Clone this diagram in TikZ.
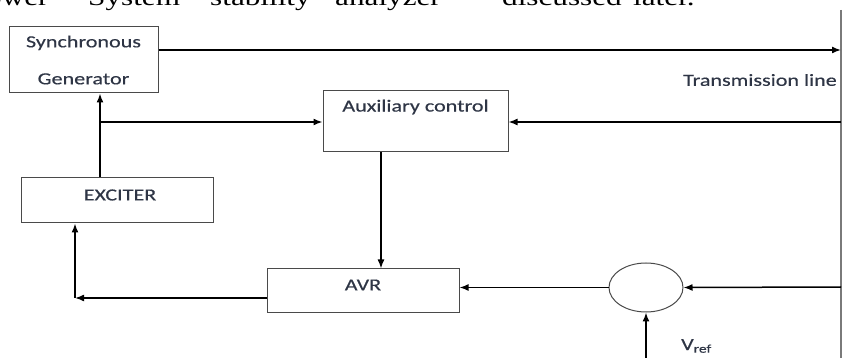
\documentclass[tikz,border=0pt]{standalone}
\usepackage{fontspec}
\usepackage{xcolor}
\usepackage{tikz}
\usetikzlibrary{shapes.geometric, arrows.meta, positioning, calc}
\newfontfamily\diagfont[FakeStretch=1.3, FakeBold=0.4]{Carlito}
\newfontfamily\bodyfont[FakeStretch=1.3]{Liberation Serif}
\definecolor{boxline}{HTML}{4A4A4A}
\definecolor{labeltext}{HTML}{2E3545}
\definecolor{busline}{HTML}{7A7A7A}

\begin{document}
\begin{tikzpicture}[x=1pt, y=-1pt, >={Latex[length=9pt, width=7pt]}]
    \tikzstyle{block} = [rectangle, draw=boxline, line width=1pt, inner sep=0pt]
    \tikzstyle{summer} = [ellipse, draw=boxline, line width=1pt, inner sep=0pt]
    \tikzstyle{lbl} = [text=labeltext, font=\diagfont\fontsize{17}{37}\selectfont, inner sep=0pt]
    \tikzstyle{signal} = [draw, ->, line width=1.5pt]

    \useasboundingbox (0,0) rectangle (844,358);
    \clip (0,0) rectangle (844,358);

    % cut-off line of body text above the figure
    \foreach \word/\xpos [count=\i] in {ower/-14, System/88, stability/210, analyzer/335, discussed/502, later./633}
        \node [anchor=base west, inner sep=0pt, font=\bodyfont\fontsize{24}{28}\selectfont] (word\i) at (\xpos,6) {\word};

    % blocks
    \node [block, minimum width=149, minimum height=66] (gen) at (83.5,60) {};
    \node [lbl, align=center] (gentext) at (gen.center) {Synchronous\\Generator};
    \node [block, minimum width=185, minimum height=61] (aux) at (415.5,121.5) {};
    \node [lbl] (auxtext) at ([yshift=14.5pt]aux.center) {Auxiliary control};
    \node [block, minimum width=192, minimum height=45] (exc) at (117,200.5) {};
    \node [lbl] (exctext) at ([xshift=3pt, yshift=5.5pt]exc.center) {EXCITER};
    \node [block, minimum width=192, minimum height=44] (avr) at (363,291) {};
    \node [lbl] (avrtext) at ([yshift=6pt]avr.center) {AVR};
    \node [summer, minimum width=74, minimum height=49] (sum) at (646,287.5) {};

    % transmission line
    \coordinate (bustop) at (841,10);
    \coordinate (busbot) at (841,358);
    \draw [busline, line width=2pt] (bustop) -- (busbot);
    \node [lbl, anchor=east] (buslabel) at (837,80) {Transmission line};

    \coordinate (bus1) at (841,50);
    \coordinate (bus2) at (841,122);
    \coordinate (bus3) at (841,287);
    \coordinate (tap) at (100,122);
    \coordinate (corner) at (75,298);
    \coordinate (vrefin) at (646,358);

    % signals
    \path [signal] (gen.east |- bus1) -- (bus1);
    \path [signal] (tap |- exc.north) -- (tap |- gen.south);
    \path [signal] (tap) -- (aux.west |- tap);
    \path [signal] (bus2) -- (aux.east |- bus2);
    \path [signal] ([xshift=-34.5pt]aux.south) -- ([xshift=-34.5pt]aux.south |- avr.north);
    \path [signal] (avr.west |- corner) -- (corner);
    \path [signal] (corner) -- (corner |- exc.south);
    \path [signal] (bus3) -- (sum.east);
    \path [signal] (sum.west) -- (avr.east |- sum.west);
    \path [signal] (vrefin) -- (sum.south);
    \node [lbl, anchor=west] (vref) at (681,346) {V\textsubscript{ref}};
\end{tikzpicture}
\end{document}
